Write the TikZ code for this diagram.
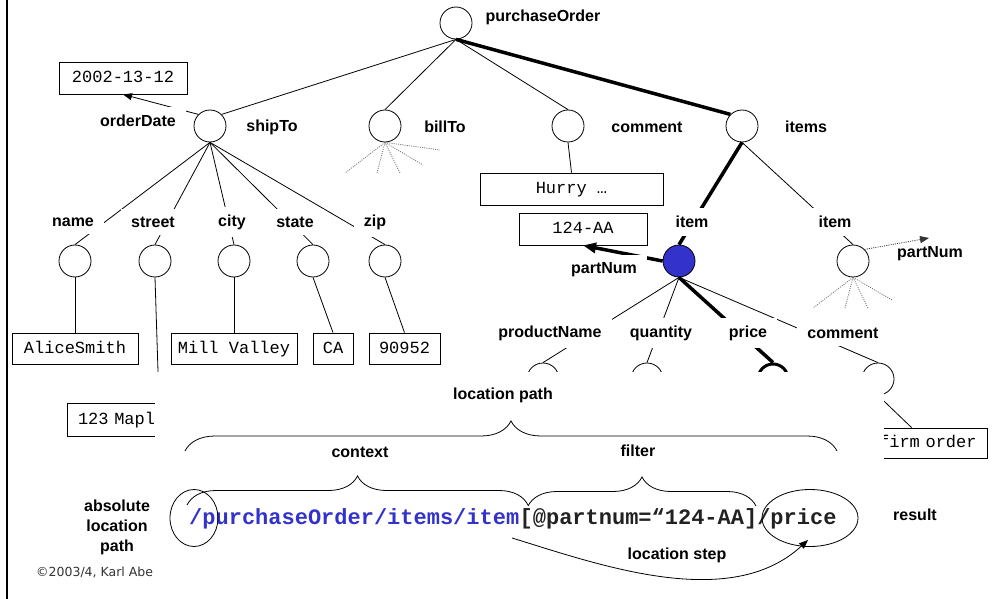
\documentclass[tikz,border=0pt]{standalone}
\usepackage{fontspec}
\setmainfont{Liberation Sans}
\newfontfamily\monof{Liberation Mono}
\newfontfamily\dejaf{DejaVu Sans}
\usetikzlibrary{arrows.meta,decorations.pathreplacing,shapes.geometric,calc}
\definecolor{nodeblue}{RGB}{51,51,204}
\definecolor{pathdark}{RGB}{34,34,34}
\begin{document}
\begin{tikzpicture}[x=1pt,y=-1pt,
  circ/.style={circle,draw,minimum size=32pt,inner sep=0pt,line width=0.8pt},
  lbl/.style={fill=white,inner xsep=10pt,inner ysep=8pt,font=\bfseries\fontsize{16}{19}\selectfont},
  plainlbl/.style={inner sep=2pt,font=\bfseries\fontsize{16}{19}\selectfont},
  val/.style={draw,line width=0.8pt,font=\monof\fontsize{17}{20}\selectfont,inner xsep=0pt,inner ysep=0pt,text height=11pt,text depth=2pt},
  thinl/.style={line width=0.8pt},
  heavy/.style={line width=3.5pt},
  dots/.style={black!55,line width=0.8pt,dash pattern=on 1pt off 1.2pt},
  brc/.style={decorate,decoration={brace,amplitude=#1},line width=0.8pt},
  arr/.style={-{Triangle[length=9pt,width=7pt]}},
  bigarr/.style={-{Triangle[length=13pt,width=10pt]}},
  ptxt/.style={anchor=base west,inner sep=0pt,font=\monof\bfseries\fontsize{22}{24}\selectfont}
]
\useasboundingbox (0,0) rectangle (1007,599);
\fill[white] (0,0) rectangle (1007,599);
\draw[line width=1.2pt] (7,0) -- (7,599);

% ---------- tree nodes ----------
\node[circ] (root) at (456,23) {};
\node[circ] (ship) at (210,126) {};
\node[circ] (bill) at (385,126) {};
\node[circ] (cmt) at (568,126) {};
\node[circ] (items) at (742,126) {};
\node[circ] (cname) at (75,261) {};
\node[circ] (cstreet) at (155,261) {};
\node[circ] (ccity) at (234,261) {};
\node[circ] (cstate) at (313,261) {};
\node[circ] (czip) at (385,261) {};
\node[circ,fill=nodeblue] (item1) at (679,261) {};
\node[circ] (item2) at (853,261) {};
\node[circ] (cpn) at (543,379) {};
\node[circ] (cqty) at (647,379) {};
\node[circ,line width=3pt,minimum size=30pt] (cprice) at (773,379) {};
\node[circ] (ccm) at (878,379) {};

% ---------- value boxes ----------
\node[val,minimum width=128pt,minimum height=32pt] (vdate) at (123,78) {2002-13-12};
\node[val,minimum width=126pt,minimum height=31pt] (vname) at (75,348.5) {AliceSmith};
\node[val,minimum width=126pt,minimum height=31pt] (vcity) at (234,348.5) {Mill Valley};
\node[val,minimum width=40pt,minimum height=31pt] (vstate) at (333,348.5) {CA};
\node[val,minimum width=71pt,minimum height=31pt] (vzip) at (404.5,348.5) {90952};
\node[val,minimum width=183pt,minimum height=32pt] (vhurry) at (571.5,189) {Hurry …};
\node[val,minimum width=128pt,minimum height=32pt] (vpart) at (583,229) {124-AA};
\node[val,minimum height=33pt,text width=162pt,inner xsep=11pt,align=left] (vstreet) at (159,419.5) {123 Mapl};
\node[val,minimum height=30pt,text width=130pt,inner xsep=11pt,align=right,anchor=east] (vcm) at (988,443) {firm order};
\node[anchor=west,inner sep=0pt,font=\dejaf\fontsize{12.5}{14}\selectfont,text=black!80] (copy) at (36,572) {©2003/4, Karl Abe};

% ---------- edges ----------
\draw[thinl] (root.south) -- (ship.north east);
\draw[thinl] (root.south) -- (bill.north);
\draw[thinl] (root.south) -- (cmt.north);
\draw[heavy] (root.south) -- (items.north west);
\draw[thinl,arr] (ship.north west) -- (vdate.south);
\foreach \c in {cname,cstreet,ccity,cstate,czip} \draw[thinl] (ship.south) -- (\c.north);
\draw[thinl] (cname.south) -- (vname.north);
\draw[thinl] (cstreet.south) -- (vstreet.north);
\draw[thinl] (ccity.south) -- (vcity.north);
\draw[thinl] (cstate.south) -- (vstate.north);
\draw[thinl] (czip.south) -- (vzip.north);
\draw[thinl] (cmt.south) -- (vhurry.north);
\draw[heavy] (items.south) -- (item1.north);
\draw[thinl] (items.south) -- (item2.north);
\draw[heavy,bigarr] (item1.west) -- (vpart.south);
\draw[thinl] (item1.south) -- (cpn.north);
\draw[thinl] (item1.south) -- (cqty.north);
\draw[heavy] (item1.south) -- (cprice.north);
\draw[thinl] (item1.south) -- (ccm.north);
\draw[thinl] (ccm.south) -- (vcm.north);

% dotted stubs
\coordinate (b1) at (345,173); \coordinate (b2) at (377,173); \coordinate (b3) at (400,173);
\coordinate (b4) at (423,165); \coordinate (b5) at (440,150);
\foreach \p in {b1,b2,b3,b4,b5} \draw[dots] (bill.south) -- (\p);
\coordinate (i1) at (813,308); \coordinate (i2) at (845,308); \coordinate (i3) at (868,308);
\coordinate (i4) at (892,300);
\foreach \p in {i1,i2,i3,i4} \draw[dots] (item2.south) -- (\p);

% ---------- labels ----------
\node[lbl] (lroot) at (543,17) {purchaseOrder};
\node[lbl] (lship) at (272,127) {shipTo};
\node[lbl] (lbill) at (445,127) {billTo};
\node[lbl] (lcmt) at (647,127) {comment};
\node[lbl] (litems) at (806,127) {items};
\node[lbl] (ldate) at (138,121) {orderDate};
\node[lbl] (lname) at (73,222) {name};
\node[lbl] (lstreet) at (153,222) {street};
\node[lbl] (lcity) at (232,222) {city};
\node[lbl] (lstate) at (295,222) {state};
\node[lbl] (lzip) at (375,222) {zip};
\node[lbl] (litem1) at (692,222) {item};
\node[lbl] (litem2) at (835,222) {item};
\node[lbl] (lpart1) at (604,270) {partNum};
\node[lbl] (lpn) at (550,333) {productName};
\node[lbl] (lqty) at (661,333) {quantity};
\node[lbl] (lprice) at (748,333) {price};
\node[lbl] (lcm) at (843,333) {comment};
\node[plainlbl] (lpart2) at (930,254) {partNum};
\coordinate (pn2) at (929,238);
\draw[dots,black!80,arr] (item2.north east) -- (pn2);

% ---------- cover ----------
\fill[white] (155,372) rectangle (884,600);

% ---------- location path ----------
\node[plainlbl] (llp) at (503,395) {location path};
\draw[brc=30pt] (185,451) -- (837,451);
\node[plainlbl] (lctx) at (360,452) {context};
\node[plainlbl] (lflt) at (638,451) {filter};
\draw[brc=29pt] (187,505) -- (528,505);
\draw[brc=29pt] (528,506) -- (756,506);
\node[ptxt,text=nodeblue] (pa1) at (189,524) {/purchaseOrder/items/item};
\node[ptxt,text=pathdark] (pa2) at (pa1.base east) {[@partnum=“124-AA]/price};
\node[draw,ellipse,thinl,minimum width=48pt,minimum height=57pt,inner sep=0pt] (eabs) at (194,518) {};
\node[draw,ellipse,thinl,minimum width=96pt,minimum height=57pt,inner sep=0pt] (eres) at (810,518) {};
\coordinate (ls0) at (512,538);
\coordinate (ls1) at (808,540);
\draw[thinl,arr] (ls0) .. controls (600,565) and (730,612) .. (ls1);
\node[plainlbl] (lstep) at (677,555) {location step};
\node[plainlbl] (lres) at (915,515) {result};
\node[plainlbl,align=center,font=\bfseries\fontsize{16}{20}\selectfont] (labs) at (117,527) {absolute\\location\\path};
\end{tikzpicture}
\end{document}
